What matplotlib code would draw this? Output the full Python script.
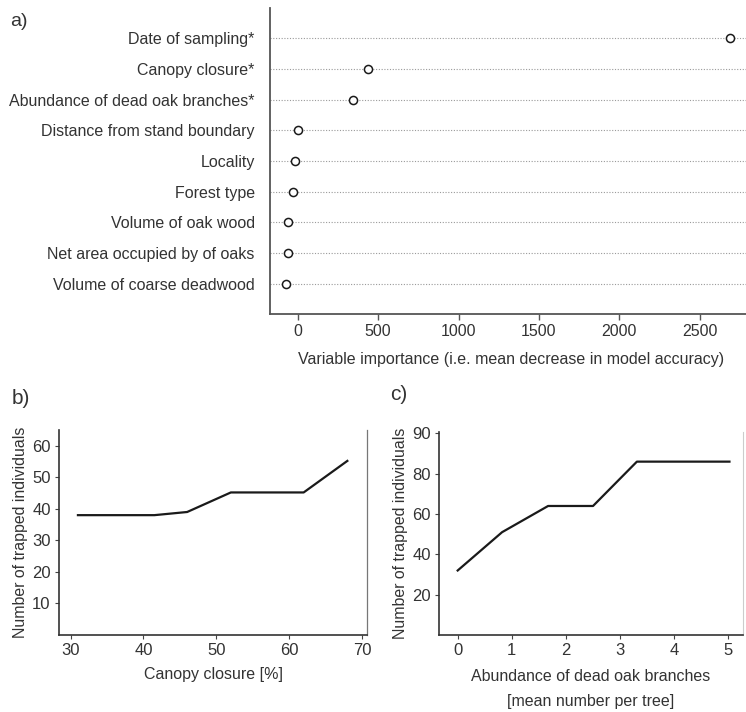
import matplotlib
matplotlib.use("Agg")
import matplotlib.pyplot as plt

plt.rcParams['font.family'] = ['Liberation Sans', 'DejaVu Sans']

# Panel a data
variables = ["Date of sampling*", "Canopy closure*", "Abundance of dead oak branches*",
             "Distance from stand boundary", "Locality", "Forest type",
             "Volume of oak wood", "Net area occupied by of oaks", "Volume of coarse deadwood"]
importance = [2690, 435, 346, 3, -18, -27, -62, -62, -74]
a_xticks = [0, 500, 1000, 1500, 2000, 2500]

# Panel b data
canopy_x = [31, 41.5, 46, 52, 62, 68]
canopy_y = [38, 38, 39, 45.2, 45.2, 55.2]
b_xticks = [30, 40, 50, 60, 70]
b_yticks = [10, 20, 30, 40, 50, 60]

# Panel c data
branches_x = [0, 0.82, 1.67, 2.5, 3.31, 5.02]
branches_y = [32, 51, 64, 64, 86, 86]
c_xticks = [0, 1, 2, 3, 4, 5]
c_yticks = [20, 40, 60, 80, 100]
c_yticklabels = ["20", "40", "60", "80", "90"]

TXT = "#333333"
LINE = "#1a1a1a"
W, H = 746, 712
fig = plt.figure(figsize=(W/100, H/100), dpi=100)

def rect(l, t, r, b):
    return [l/W, 1 - b/H, (r - l)/W, (b - t)/H]

# ---- Panel a
ax = fig.add_axes(rect(270, 8, 746, 314))
ys = list(range(len(variables)))
for y in ys:
    ax.axhline(y, color="#9a9a9a", lw=0.8, ls=(0, (1, 1.5)), zorder=1)
ax.scatter(importance, ys, s=34, facecolors="white", edgecolors=LINE, linewidths=1.1, zorder=3)
ax.set_ylim(len(variables) - 1 + 0.98, -0.98)
ax.set_xlim(-172, 2787)
ax.set_yticks(ys)
ax.set_yticklabels(variables, fontsize=11.5, color=TXT)
ax.tick_params(axis='y', length=0, pad=11)
ax.set_xticks(a_xticks)
ax.set_xticklabels([str(v) for v in a_xticks], fontsize=11.5, color=TXT)
ax.tick_params(axis='x', length=4, width=1, color="#555555", pad=3)
for s in ["top", "right"]:
    ax.spines[s].set_visible(False)
for s in ["left", "bottom"]:
    ax.spines[s].set_color("#555555")
    ax.spines[s].set_linewidth(1.3)
ax.set_xlabel("Variable importance (i.e. mean decrease in model accuracy)", fontsize=11.5,
              color=TXT)
ax.xaxis.set_label_coords((511 - 270) / (746 - 270), -0.125)
fig.text(10/W, 1 - 22/H, "a)", fontsize=14, color=TXT, va="center", ha="left")

# ---- Panel b
bx = fig.add_axes(rect(59, 430, 367, 635))
bx.plot(canopy_x, canopy_y, color=LINE, lw=1.6)
bx.set_xlim(28.4, 70.7)
bx.set_ylim(0, 65)
bx.set_xticks(b_xticks)
bx.set_xticklabels([str(v) for v in b_xticks], fontsize=12, color=TXT)
bx.set_yticks(b_yticks)
bx.set_yticklabels([str(v) for v in b_yticks], fontsize=12, color=TXT)
bx.tick_params(length=3, width=0.8, color="#444444", pad=3)
bx.spines["top"].set_visible(False)
bx.spines["right"].set_color("#777777")
bx.spines["right"].set_linewidth(0.9)
for s in ["left", "bottom"]:
    bx.spines[s].set_color("#333333")
    bx.spines[s].set_linewidth(1.2)
bx.set_xlabel("Canopy closure [%]", fontsize=11.5, color=TXT, labelpad=6)
bx.set_ylabel("Number of trapped individuals", fontsize=11.4, color=TXT, labelpad=3)
fig.text(12/W, 1 - 398/H, "b)", fontsize=15, color=TXT, va="center", ha="left")

# ---- Panel c
cx = fig.add_axes(rect(439, 432, 743, 635))
cx.plot(branches_x, branches_y, color=LINE, lw=1.6)
cx.set_xlim(-0.345, 5.27)
cx.set_ylim(0, 100.7)
cx.set_xticks(c_xticks)
cx.set_xticklabels([str(v) for v in c_xticks], fontsize=12, color=TXT)
cx.set_yticks(c_yticks)
cx.set_yticklabels(c_yticklabels, fontsize=12, color=TXT)
cx.tick_params(length=3, width=0.8, color="#444444", pad=3)
cx.spines["top"].set_visible(False)
cx.spines["right"].set_color("#cccccc")
cx.spines["right"].set_linewidth(0.8)
for s in ["left", "bottom"]:
    cx.spines[s].set_color("#333333")
    cx.spines[s].set_linewidth(1.2)
cx.set_xlabel("Abundance of dead oak branches\n[mean number per tree]", fontsize=11.5,
              color=TXT, labelpad=8, linespacing=1.8)
cx.set_ylabel("Number of trapped individuals", fontsize=11.4, color=TXT, labelpad=3)
fig.text(390/W, 1 - 394/H, "c)", fontsize=15, color=TXT, va="center", ha="left")

fig.savefig("out.png", dpi=100, facecolor="white")
